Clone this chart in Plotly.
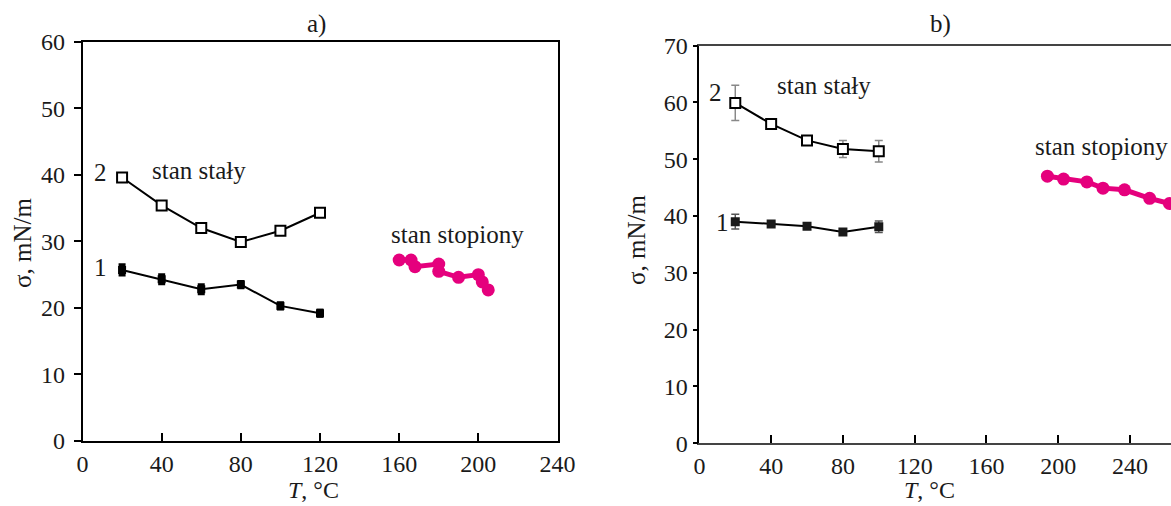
import plotly.graph_objects as go

# ---- panel a) ----
a_T_solid = [20, 40, 60, 80, 100, 120]
a_sigma_2 = [39.6, 35.4, 32.0, 29.9, 31.6, 34.3]
a_sigma_1 = [25.7, 24.3, 22.8, 23.5, 20.3, 19.2]
a_err_1 = [1.0, 0.9, 0.9, 0.7, 0.7, 0.7]
a_T_melt = [160, 166, 168, 180, 180, 190, 200, 202, 205]
a_sigma_melt = [27.2, 27.2, 26.2, 26.6, 25.5, 24.6, 25.0, 23.9, 22.7]

# ---- panel b) ----
b_T_solid = [20, 40, 60, 80, 100]
b_sigma_2 = [59.9, 56.2, 53.3, 51.8, 51.4]
b_err_2 = [3.1, 0.4, 0.4, 1.5, 1.9]
b_sigma_1 = [39.0, 38.6, 38.2, 37.2, 38.1]
b_err_1 = [1.3, 0.3, 0.3, 0.3, 1.0]
b_T_melt = [194, 203, 216, 225, 237, 251, 262]
b_sigma_melt = [47.0, 46.5, 46.0, 44.9, 44.6, 43.1, 42.2]

x_ticks = [0, 40, 80, 120, 160, 200, 240]
a_y_ticks = [0, 10, 20, 30, 40, 50, 60]
b_y_ticks = [0, 10, 20, 30, 40, 50, 60, 70]

PINK = "#E5007D"
FONT = "Liberation Serif"
W, H = 1171, 506

fig = go.Figure()

# panel a traces
fig.add_trace(go.Scatter(
    x=a_T_solid, y=a_sigma_2, mode="lines+markers", xaxis="x", yaxis="y",
    line=dict(color="black", width=2),
    marker=dict(symbol="square", size=10, color="white",
                line=dict(color="black", width=2))))
fig.add_trace(go.Scatter(
    x=a_T_solid, y=a_sigma_1, mode="lines+markers", xaxis="x", yaxis="y",
    line=dict(color="black", width=2),
    error_y=dict(type="data", array=a_err_1, color="black", thickness=7, width=0),
    marker=dict(symbol="square", size=8, color="black")))
fig.add_trace(go.Scatter(
    x=a_T_melt, y=a_sigma_melt, mode="lines+markers", xaxis="x", yaxis="y",
    line=dict(color=PINK, width=5),
    marker=dict(symbol="circle", size=13, color=PINK)))

# panel b traces
fig.add_trace(go.Scatter(
    x=b_T_solid, y=b_sigma_2, mode="lines+markers", xaxis="x2", yaxis="y2",
    line=dict(color="black", width=2),
    error_y=dict(type="data", array=b_err_2, color="#888888", thickness=1.5, width=4),
    marker=dict(symbol="square", size=10, color="white",
                line=dict(color="black", width=2))))
fig.add_trace(go.Scatter(
    x=b_T_solid, y=b_sigma_1, mode="lines+markers", xaxis="x2", yaxis="y2",
    line=dict(color="black", width=2),
    error_y=dict(type="data", array=b_err_1, color="#555555", thickness=1.5, width=4),
    marker=dict(symbol="square", size=9, color="#1a1a1a")))
fig.add_trace(go.Scatter(
    x=b_T_melt, y=b_sigma_melt, mode="lines+markers", xaxis="x2", yaxis="y2",
    line=dict(color=PINK, width=5),
    marker=dict(symbol="circle", size=13, color=PINK)))

tick_font = dict(family=FONT, size=24, color="#1a1a1a")


def px_x(p):
    return p / W


def px_y(p):
    return 1 - p / H


common_x = dict(showgrid=False, zeroline=False, showline=True, linecolor="black",
                linewidth=1.5, ticks="inside", ticklen=8, tickwidth=1.5,
                tickcolor="black", tickvals=x_ticks, tickfont=tick_font,
                ticklabelstandoff=0, automargin=False)
common_y = dict(showgrid=False, zeroline=False, showline=True, linecolor="black",
                linewidth=1.5, ticks="outside", ticklen=7, tickwidth=1.5,
                tickcolor="black", tickfont=tick_font, automargin=False)

fig.update_layout(
    width=W, height=H,
    margin=dict(l=0, r=0, t=0, b=0, pad=0, autoexpand=False),
    paper_bgcolor="white", plot_bgcolor="white",
    showlegend=False,
    xaxis=dict(**common_x, range=[0, 240], mirror=True,
               domain=[px_x(82.5), px_x(557.5)], anchor="y"),
    yaxis=dict(**common_y, range=[0, 60], mirror=True, tickvals=a_y_ticks,
               domain=[px_y(441), px_y(41.7)], anchor="x", ticklabelstandoff=4),
    xaxis2=dict(**common_x, range=[0, 262.9], mirror=True,
                domain=[px_x(699.4), 1.0], anchor="y2"),
    yaxis2=dict(**common_y, range=[0, 70], mirror=False, tickvals=b_y_ticks,
                domain=[px_y(443.3), px_y(45.5)], anchor="x2", ticklabelstandoff=0),
)
fig.update_layout(xaxis2_linecolor="#444444", xaxis2_linewidth=2,
                  yaxis2_ticklen=5)

ann_font = dict(family=FONT, size=25, color="#1a1a1a")
notes = [
    # in-plot labels (data coordinates)
    dict(x=9.3, y=40.3, xref="x", yref="y", text="2"),
    dict(x=58.8, y=40.7, xref="x", yref="y", text="stan stały"),
    dict(x=9.3, y=26.0, xref="x", yref="y", text="1"),
    dict(x=189.7, y=31.0, xref="x", yref="y", text="stan stopiony"),
    dict(x=9.2, y=61.8, xref="x2", yref="y2", text="2"),
    dict(x=69.3, y=62.9, xref="x2", yref="y2", text="stan stały"),
    dict(x=12.6, y=38.9, xref="x2", yref="y2", text="1"),
    dict(x=224.4, y=52.3, xref="x2", yref="y2", text="stan stopiony"),
    # panel titles
    dict(x=px_x(316), y=px_y(24), xref="paper", yref="paper", text="a)"),
    dict(x=px_x(941), y=px_y(24), xref="paper", yref="paper", text="b)"),
    dict(x=px_x(22), y=px_y(243), xref="paper", yref="paper", text="σ, mN/m",
         textangle=-90),
    dict(x=px_x(637), y=px_y(240), xref="paper", yref="paper", text="σ, mN/m",
         textangle=-90),
]
for n in notes:
    fig.add_annotation(showarrow=False, font=ann_font,
                       xanchor="center", yanchor="middle", **n)

# x-axis titles sit on the bottom edge of the page
for cx in (313, 929):
    fig.add_annotation(x=px_x(cx), y=0.002, xref="paper", yref="paper",
                       text="<i>T</i>, °C", showarrow=False,
                       font=dict(family=FONT, size=24, color="#1a1a1a"),
                       xanchor="center", yanchor="bottom")

fig.write_html("out.html")
